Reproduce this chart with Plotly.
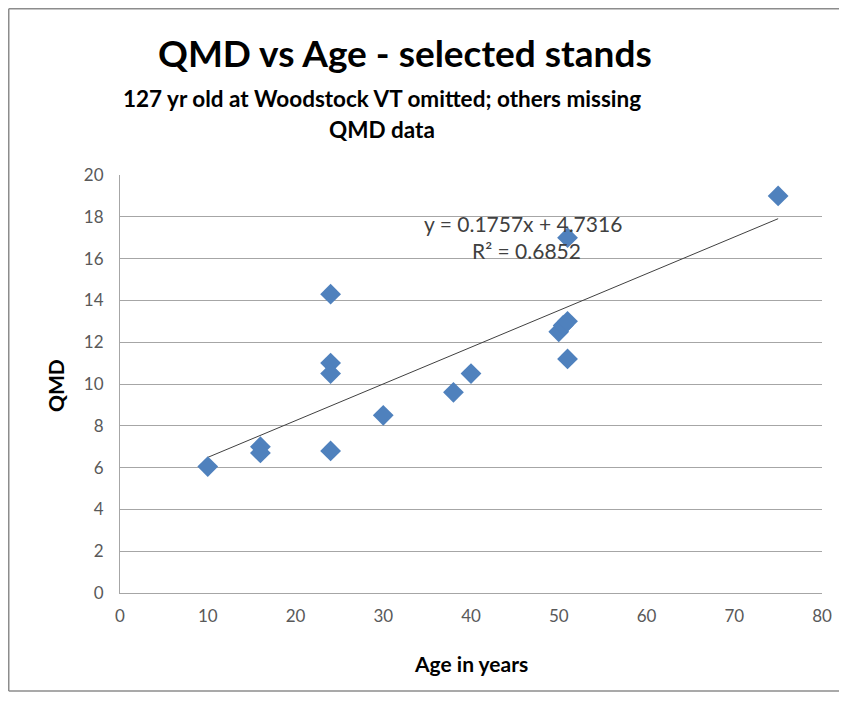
import plotly.graph_objects as go

# Data
age = [10, 16, 16, 24, 24, 24, 24, 30, 38, 40, 50, 50.5, 51, 51, 51, 75]
qmd = [6.05, 7.0, 6.7, 14.3, 11.0, 10.5, 6.8, 8.5, 9.6, 10.5, 12.5, 12.8, 13.0, 11.2, 17.0, 19.0]
trend_slope = 0.1757
trend_intercept = 4.7316
x_ticks = [0, 10, 20, 30, 40, 50, 60, 70, 80]
y_ticks = [0, 2, 4, 6, 8, 10, 12, 14, 16, 18, 20]

OFF = 8  # browser body margin
W, H = 847 - 2 * OFF, 684
L, T = 120 - OFF, 175 - OFF
R, B = W - (822 - OFF), H - (593 - OFF)
pw, ph = W - L - R, H - T - B

def px(x):
    return (x - OFF - L) / pw

def py(y):
    return 1 - (y - OFF - T) / ph

FONT = "Lato, 'Open Sans', sans-serif"

fig = go.Figure()

tx = [min(age), max(age)]
ty = [trend_slope * v + trend_intercept for v in tx]
fig.add_trace(go.Scatter(x=tx, y=ty, mode="lines",
                         line=dict(color="#404040", width=1), hoverinfo="skip",
                         showlegend=False))
fig.add_trace(go.Scatter(x=age, y=qmd, mode="markers",
                         marker=dict(symbol="diamond", size=16, color="#4F81BD",
                                     line=dict(width=0)),
                         showlegend=False))

fig.update_layout(
    width=W, height=H,
    margin=dict(l=L, r=R, t=T, b=B, autoexpand=False),
    paper_bgcolor="white", plot_bgcolor="white",
    font=dict(family=FONT, color="#595959", size=17),
    xaxis=dict(range=[0, 80], tickvals=x_ticks, showgrid=False, zeroline=False,
               showline=True, linecolor="#A6A6A6", linewidth=1,
               ticks="outside", ticklen=8, tickcolor="rgba(0,0,0,0)",
               tickfont=dict(size=17, color="#595959")),
    yaxis=dict(range=[0, 20], tickvals=y_ticks, showgrid=True, gridcolor="#A6A6A6",
               gridwidth=1, zeroline=False, showline=True, linecolor="#A6A6A6",
               linewidth=1, ticks="outside", ticklen=12, tickcolor="rgba(0,0,0,0)",
               tickfont=dict(size=17, color="#595959")),
)

annots = [
    dict(text="<b>QMD vs Age - selected stands</b>", x=px(405), y=py(52),
         font=dict(size=37, color="#000000")),
    dict(text="<b>127 yr old at Woodstock VT omitted; others missing</b>", x=px(382), y=py(98),
         font=dict(size=22.5, color="#000000")),
    dict(text="<b>QMD data</b>", x=px(382), y=py(129),
         font=dict(size=22.5, color="#000000")),
    dict(text="<b>QMD</b>", x=px(55), y=py(386), textangle=-90,
         font=dict(size=21, color="#000000")),
    dict(text="<b>Age in years</b>", x=px(471), y=py(663),
         font=dict(size=21, color="#000000")),
    dict(text="y = 0.1757x + 4.7316", x=px(523), y=py(223),
         font=dict(size=21, color="#404040")),
    dict(text="R² = 0.6852", x=px(526), y=py(250),
         font=dict(size=21, color="#404040")),
]
for a in annots:
    fig.add_annotation(xref="paper", yref="paper", showarrow=False,
                       xanchor="center", yanchor="middle", **a)

frame = dict(color="#8C8C8C", width=1.5)
bottom = OFF + H - 1
fig.add_shape(type="line", xref="paper", yref="paper", layer="below",
              x0=px(8.75), x1=px(OFF + W), y0=py(bottom), y1=py(bottom), line=frame)
fig.add_shape(type="line", xref="paper", yref="paper", layer="below",
              x0=px(8.75), x1=px(8.75), y0=py(bottom), y1=py(8.75), line=frame)
fig.add_shape(type="line", xref="paper", yref="paper", layer="below",
              x0=px(8.75), x1=px(OFF + W), y0=py(8.75), y1=py(8.75), line=frame)

fig.write_html("out.html")
